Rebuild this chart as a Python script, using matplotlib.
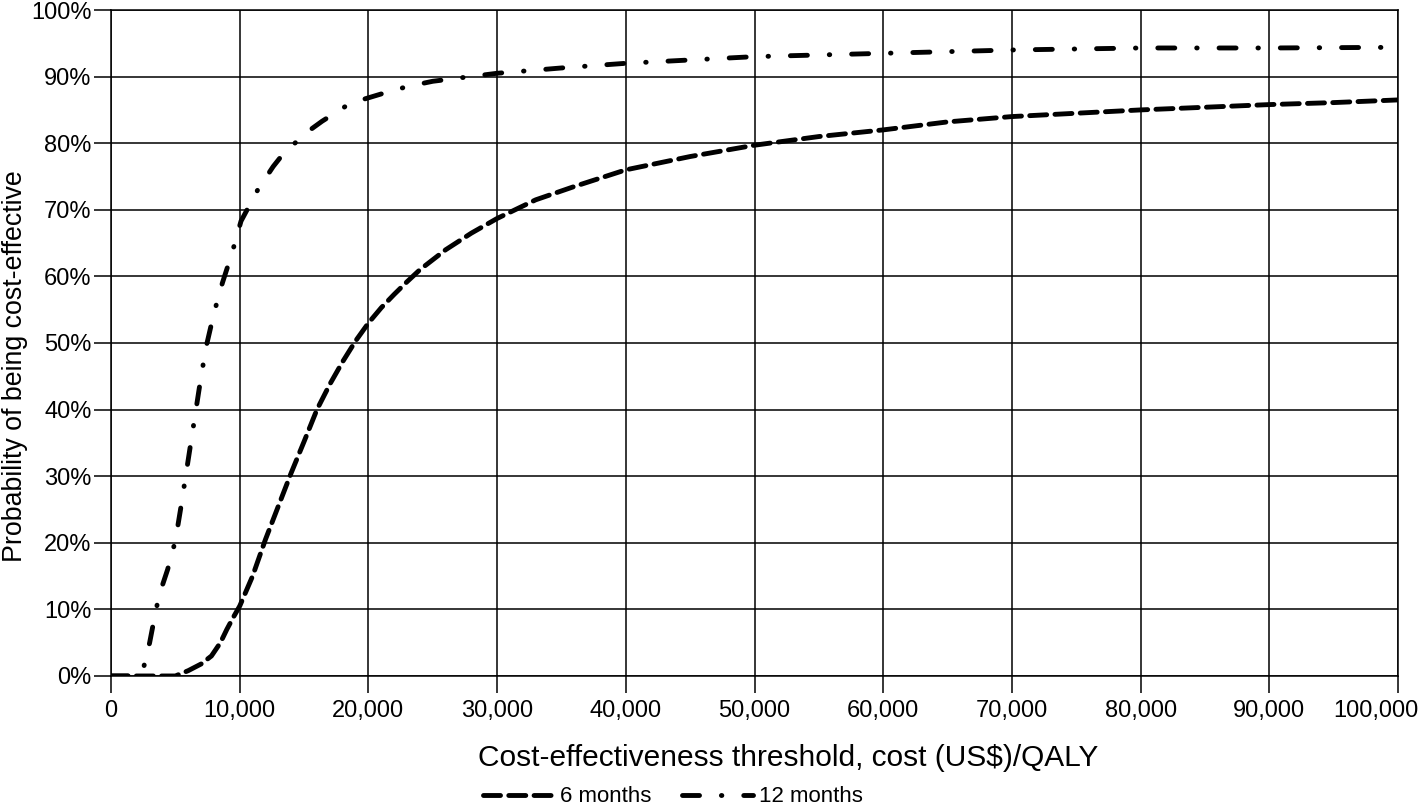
import matplotlib
matplotlib.use('Agg')
import matplotlib.pyplot as plt
from matplotlib.ticker import FuncFormatter
from matplotlib.transforms import ScaledTranslation

plt.rcParams['font.family'] = ['Liberation Sans', 'DejaVu Sans']

# cost-effectiveness acceptability curves
x_6m = [0, 2000, 4000, 5000, 6000, 7000, 7800, 8500, 9000, 9500, 10000, 11000, 12000, 13000,
        14000, 15000, 16000, 17000, 18000, 19000, 20000, 21000, 22000, 23000, 24000,
        25000, 26000, 28000, 30000, 33000, 36000, 40000, 45000, 50000, 55000, 60000,
        65000, 70000, 75000, 80000, 85000, 90000, 95000, 100000]
p_6m = [0, 0, 0, 0, 0.8, 1.8, 3, 5, 7, 8.8, 10.5, 15, 20.5, 25.5,
        30.5, 35.2, 40, 43.8, 47.2, 50.3, 53, 55.3, 57.3, 59.2, 61,
        62.5, 64, 66.5, 68.7, 71.5, 73.5, 76, 78, 79.7, 81, 82,
        83.2, 84, 84.5, 85, 85.4, 85.8, 86.1, 86.5]

x_12m = [0, 2000, 2500, 3000, 3500, 3800, 4400, 5000, 5400, 5800, 6200, 6600, 7000,
         7400, 8000, 8650, 9400, 10100, 11400, 12600, 13500, 14400, 15400, 16400, 18600,
         21000, 23000, 25000, 30000, 35000, 40000, 50000, 60000, 70000, 80000, 90000, 100000]
p_12m = [0, 0, 1, 5, 10, 12.5, 16, 20.3, 25, 30, 35, 40, 45,
         49.5, 54.5, 59, 63.5, 68.3, 73, 76.5, 78.7, 80.2, 81.9, 83.3, 86,
         87.4, 88.5, 89.3, 90.5, 91.3, 92, 93, 93.5, 94, 94.3, 94.3, 94.4]

x_ticks = list(range(0, 100001, 10000))
y_ticks = list(range(0, 101, 10))

fig = plt.figure(figsize=(14.18, 8.08), dpi=100)
ax = fig.add_axes([0.0783, 0.1634, 0.9076, 0.8242])

lw = 3.5
ax.plot(x_6m, p_6m, color='black', lw=lw, linestyle=(0, (3.5, 1.7)),
        dash_capstyle='round', solid_capstyle='round', label='6 months', zorder=3)
ax.plot(x_12m, p_12m, color='black', lw=lw, linestyle=(0, (3.5, 4.5, 0.1, 4.5)),
        dash_capstyle='round', solid_capstyle='round', label='12 months', zorder=3)

ax.set_xlim(0, 100000)
ax.set_ylim(0, 100)
ax.set_xticks(x_ticks)
ax.set_yticks(y_ticks)
ax.xaxis.set_major_formatter(FuncFormatter(lambda v, p: f'{int(v):,}'))
ax.yaxis.set_major_formatter(FuncFormatter(lambda v, p: f'{int(v)}%'))
ax.grid(True, color='black', lw=1.1)
ax.set_axisbelow(True)
for s in ax.spines.values():
    s.set_linewidth(1.1)
ax.tick_params(length=12, width=1.1, labelsize=17, color='black')
ax.tick_params(axis='x', pad=5)
ax.tick_params(axis='y', pad=2)

# last x label is pushed left so it stays inside the figure
last = ax.get_xticklabels()[-1]
last.set_horizontalalignment('right')
last.set_transform(last.get_transform() + ScaledTranslation(20 / 100, 0, fig.dpi_scale_trans))

ax.set_xlabel('Cost-effectiveness threshold, cost (US$)/QALY', fontsize=21.5)
ax.xaxis.set_label_coords(0.526, -0.102)
ax.set_ylabel('Probability of being cost-effective', fontsize=19.3, va='center')
ax.yaxis.set_label_coords(-0.0746, 0.465)

fig.legend(loc='center', bbox_to_anchor=(0.4746, 1 - 797 / 808), ncol=2, frameon=False,
           fontsize=16, handlelength=3.2, columnspacing=1.4, handletextpad=0.25)

fig.savefig('out.png', dpi=100)
plt.close(fig)
